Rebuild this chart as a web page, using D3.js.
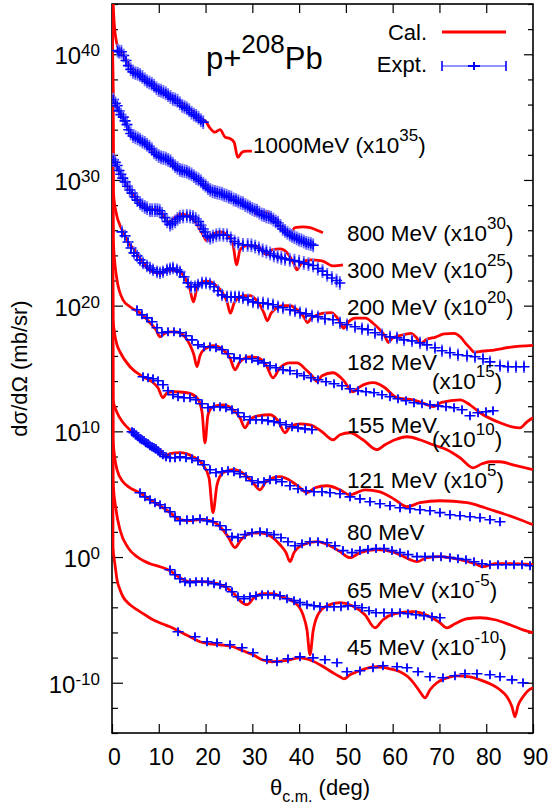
<!DOCTYPE html>
<html>
<head>
<meta charset="utf-8">
<script src="https://cdn.jsdelivr.net/npm/d3@7"></script>
<style>
  body { margin: 0; background: #fff; }
  text { font-family: "Liberation Sans", Arial, Helvetica, sans-serif; fill: #000; }
</style>
</head>
<body>
<svg id="chart" width="549" height="807"></svg>
<script>
// ---- data: [theta (deg), log10(dsigma/dOmega x scale)] ----
var energyNames = ["1000MeV", "800 MeV", "300 MeV", "200 MeV", "182 MeV", "155 MeV", "121 MeV", "80 MeV", "65 MeV", "45 MeV"];
var scaleExps = ["35", "30", "25", "20", "15", "10", "5", "", "-5", "-10"];
// half height of the error bars, in decades
var exptErr = [0.55, 0.55, 0.55, 0.5, 0.3, 0.3, 0.35, 0.3, 0.3, 0.3];
var thetaTicks = [0, 10, 20, 30, 40, 50, 60, 70, 80, 90];
var decadeLabels = [-10, 0, 10, 20, 30, 40];
var minorDecades = [-14, -12, -8, -6, -4, -2, 2, 4, 6, 8, 12, 14, 16, 18, 22, 24, 26, 28, 32, 34, 36, 38, 42, 44];

var calc1000 = [[0.02,46],[0.43,42.7],[1.0,40.9],[1.7,40.3],[2.8,39.7],[3.9,39.1],[4.9,38.7],[6.0,38.4],[7.1,38.1],[8.1,37.7],[9.2,37.5],[10.3,37.2],[11.3,36.9],[12.4,36.7],[13.8,36.4],[15.2,36.0],[16.7,35.6],[17.7,35.3],[18.8,34.8],[19.9,34.7],[21.0,34.1],[22.0,33.8],[23.1,34.0],[24.2,33.4],[25.2,33.3],[26.1,33.0],[26.9,31.8],[27.8,32.2],[28.7,32.3],[29.9,32.3]];
var calc800 = [[0.02,46],[0.28,36.4],[1.07,35.8],[1.71,35.3],[2.42,34.9],[3.21,34.3],[3.85,33.8],[4.92,33.4],[5.99,33.2],[7.05,32.9],[8.12,32.5],[9.19,32.1],[10.26,31.8],[11.33,31.75],[12.4,31.5],[13.47,31.0],[14.54,30.8],[15.6,30.7],[16.67,30.5],[17.74,30.2],[18.81,29.9],[19.88,29.5],[20.95,29.2],[22.02,29.1],[23.09,29.0],[24.16,28.7],[25.22,28.6],[26.5,28.4],[28.0,28.2],[29.5,27.85],[30.36,27.6],[31.0,27.2],[31.85,27.45],[33.13,27.45],[34.2,27.1],[35.27,26.6],[36.77,26.1],[38.05,25.8],[39.12,26.2],[40.83,26.26],[42.33,26.2],[43.82,26.0],[45.1,25.8]];
var calc300 = [[0.02,46],[0.28,31.6],[1.07,31.1],[1.71,30.56],[2.78,29.84],[3.85,29.2],[4.92,28.65],[5.99,28.17],[7.05,27.85],[8.12,27.61],[9.41,27.69],[10.69,27.37],[11.97,26.66],[13.25,26.98],[14.54,27.29],[16.03,27.21],[17.74,26.66],[19.24,25.79],[20.31,25.15],[21.38,25.63],[23.09,25.87],[24.8,25.55],[25.87,24.83],[26.66,23.24],[27.36,24.44],[28.65,24.75],[30.57,24.75],[32.07,24.44],[33.07,24.04],[34.2,24.44],[35.91,24.51],[37.62,24.12],[38.91,23.32],[39.55,22.85],[40.41,23.32],[42.33,23.64],[44.89,23.56],[47.24,23.16],[49.38,23.24]];
var calc200 = [[0.02,46],[0.3,29.0],[1.0,27.2],[1.7,26.4],[2.4,25.83],[3.5,25.0],[4.9,24.4],[6.5,23.5],[8.1,22.8],[10.3,22.57],[12.0,22.8],[13.9,22.8],[15.6,22.2],[16.6,21.4],[17.4,20.3],[18.1,21.3],[18.9,21.8],[20.2,21.95],[21.4,21.85],[22.5,21.5],[23.6,21.05],[24.6,20.3],[25.3,19.4],[26.1,20.2],[27.0,20.6],[28.3,20.8],[29.6,20.8],[30.7,20.5],[31.7,20.0],[32.5,19.4],[33.2,18.8],[34.0,19.4],[34.9,19.75],[36.5,20.0],[38.1,20.0],[39.3,19.75],[40.3,19.45],[41.1,19.05],[41.8,18.65],[42.6,19.0],[43.5,19.2],[45.2,19.4],[46.9,19.45],[48.0,19.1],[48.9,18.6],[49.5,18.2],[50.3,18.6],[51.2,18.9],[52.1,19.0],[54.2,19.0],[55.8,18.6],[57.4,18.03],[58.3,17.6],[59.1,17.07],[59.9,17.4],[61.7,17.63],[63.9,17.8],[65.0,17.5],[66.0,17.0],[67.2,17.3],[69.2,17.5],[71.0,17.75],[73.1,17.8],[74.5,17.5],[75.6,17.0],[76.6,16.6],[77.4,16.3],[78.5,16.35],[81.0,16.44],[85.3,16.7],[90,16.84]];
var calc182 = [[0.02,46],[0.3,25.0],[1.07,22.05],[2.35,20.46],[3.85,19.91],[5.99,19.43],[8.12,18.64],[9.41,18.08],[10.26,17.52],[11.12,17.76],[12.4,17.92],[13.89,17.92],[15.18,17.68],[16.67,16.88],[17.5,16.1],[18.17,15.14],[18.81,16.01],[19.88,16.57],[21.59,16.81],[23.73,16.49],[25.22,15.85],[26.29,14.9],[27.36,15.53],[29.5,15.93],[31.21,15.85],[32.92,15.3],[34.42,14.26],[35.91,15.06],[38.05,15.45],[39.55,15.45],[41.47,14.9],[42.97,14.34],[43.82,13.95],[44.89,14.42],[47.24,14.66],[49.38,14.1],[51.52,13.15],[53.01,13.55],[55.79,13.87],[58.36,13.47],[60.5,12.75],[62.0,12.6],[64.34,12.51],[66.91,12.19],[68.62,11.96],[70.5,12.3],[74.39,12.51],[76.53,12.11],[78.67,11.48],[82.94,10.68],[85.51,10.36],[87.22,10.28],[88.72,10.76],[90,11.08]];
var calc155 = [[0.02,46],[0.21,18.88],[1.07,16.88],[1.71,16.33],[3.85,15.14],[6.63,14.34],[8.55,13.95],[9.83,13.47],[10.9,12.67],[11.76,13.07],[13.04,13.15],[16.03,13.07],[18.17,12.67],[19.24,11.56],[19.88,9.09],[20.52,11.32],[21.59,11.96],[23.73,12.11],[25.65,11.8],[27.36,11.08],[28.43,10.28],[29.5,10.92],[31.21,11.24],[33.78,11.32],[35.49,10.84],[36.98,9.89],[38.05,10.36],[40.19,10.6],[42.33,10.52],[44.89,9.97],[47.24,9.33],[48.74,9.73],[50.88,9.89],[53.65,9.33],[56.65,8.54],[58.36,8.93],[60.5,9.33],[63.06,9.57],[65.84,9.33],[68.62,8.93],[71.61,8.54],[74.39,7.9],[77.17,7.1],[79.1,7.42],[80.8,7.58],[82.94,7.58],[85.72,7.34],[90,6.95]];
var calc121 = [[0.02,46],[0.21,12.5],[1.07,11.5],[2.35,10.7],[4.28,9.97],[5.99,9.33],[8.12,8.77],[10.26,8.54],[11.33,8.06],[12.4,8.22],[14.54,8.3],[17.31,7.98],[19.45,7.34],[20.74,6.31],[21.59,3.53],[22.45,5.75],[23.73,6.71],[25.87,6.95],[28.43,6.55],[30.14,5.91],[31.64,5.35],[32.92,5.99],[35.91,6.39],[38.48,5.99],[40.19,5.51],[41.68,5.11],[43.39,5.51],[45.96,5.67],[48.74,5.35],[50.88,4.95],[54.08,5.35],[57.29,5.19],[60.5,4.56],[63.06,4.0],[65.84,4.32],[70.11,4.48],[75.89,4.32],[79.74,3.92],[82.94,3.53],[86.15,3.13],[90,2.57]];
var calc80 = [[0.02,46],[0.21,9.33],[1.07,6.95],[2.35,5.99],[3.85,5.51],[5.99,5.11],[8.12,4.56],[10.26,4.08],[12.4,3.53],[14.54,2.97],[16.67,2.89],[18.81,2.97],[20.95,2.89],[23.09,2.41],[24.8,1.62],[26.29,0.75],[27.57,1.38],[29.5,1.86],[31.64,1.93],[33.78,1.7],[35.91,0.98],[37.2,0.35],[38.05,-0.37],[38.91,0.35],[40.83,0.98],[43.82,1.22],[46.6,0.9],[48.74,0.43],[50.88,-0.05],[53.01,0.35],[56.65,0.59],[60.5,0.35],[63.27,-0.13],[65.2,-0.37],[67.34,-0.05],[70.11,0.03],[74.39,-0.21],[77.6,-0.53],[79.31,-0.77],[81.87,-0.53],[85.08,-0.53],[90,-0.61]];
var calc65 = [[0.02,46],[0.21,6.15],[0.86,3.76],[1.71,2.17],[3.42,0.75],[5.34,0.03],[8.12,-0.53],[10.26,-0.77],[12.4,-1.09],[14.54,-1.65],[16.67,-1.96],[18.81,-1.96],[21.38,-2.04],[24.16,-2.36],[26.29,-3.0],[27.57,-3.55],[28.86,-3.79],[30.36,-3.24],[32.07,-2.92],[34.2,-2.92],[36.34,-3.16],[39.12,-3.63],[40.83,-4.59],[41.68,-5.79],[42.33,-7.78],[42.97,-5.95],[44.03,-4.59],[45.96,-3.87],[48.74,-3.63],[51.31,-3.87],[54.08,-4.59],[56.22,-5.63],[57.93,-4.99],[60.5,-4.51],[64.34,-4.35],[67.55,-4.67],[70.11,-5.23],[71.61,-5.63],[73.32,-5.31],[75.89,-4.91],[78.67,-4.83],[81.87,-4.99],[85.08,-5.39],[87.86,-5.79],[90,-6.03]];
var calc45 = [[0.02,46],[0.21,0.82],[0.64,-0.61],[1.07,-1.8],[1.71,-2.6],[2.35,-3.16],[3.85,-3.79],[5.34,-4.19],[7.05,-4.59],[8.76,-4.99],[10.69,-5.31],[12.4,-5.55],[14.54,-5.95],[16.67,-6.34],[18.81,-6.74],[20.95,-6.9],[23.09,-6.98],[25.87,-7.14],[28.0,-7.46],[30.14,-7.78],[32.07,-8.17],[34.2,-8.33],[36.98,-8.25],[40.19,-8.02],[42.75,-8.25],[44.46,-8.57],[47.24,-9.21],[48.74,-9.53],[49.59,-9.69],[50.88,-9.37],[52.37,-9.13],[54.08,-8.89],[56.65,-8.73],[59.43,-8.89],[61.57,-9.13],[63.27,-9.53],[64.77,-10.16],[65.84,-10.72],[66.91,-11.2],[67.98,-10.56],[69.47,-10.0],[71.61,-9.61],[73.75,-9.45],[76.53,-9.53],[78.67,-9.77],[81.23,-10.16],[82.94,-10.56],[84.44,-11.12],[85.51,-11.91],[86.15,-12.71],[86.79,-11.83],[87.86,-11.12],[88.93,-10.64],[90,-10.4]];

var expt1000 = [[1.2,40.3],[1.5,40.2],[2.0,40.2],[2.5,39.9],[3.0,39.5],[3.5,39.1],[4.0,38.8],[4.5,38.6],[5.0,38.5],[5.5,38.45],[6.0,38.35],[6.5,38.2],[7.0,38.0],[7.5,37.85],[8.0,37.75],[8.5,37.65],[9.0,37.5],[9.5,37.3],[10.0,37.15],[10.5,37.1],[11.0,37.0],[11.5,36.9],[12.0,36.75],[12.5,36.6],[13.0,36.45],[13.5,36.4],[14.0,36.3],[14.5,36.1],[15.0,35.9],[15.5,35.8],[16.0,35.7],[16.5,35.55],[17.0,35.35],[17.5,35.2],[18.0,35.1],[18.5,34.95],[19.0,34.75],[19.5,34.6]];
var expt800 = [[0.3,36.4],[0.7,36.1],[1.1,35.9],[1.5,35.5],[1.9,35.2],[2.4,35.0],[2.8,34.7],[3.2,34.4],[3.6,34.0],[4.0,33.7],[4.5,33.5],[5.0,33.4],[5.5,33.3],[6.0,33.2],[6.5,33.05],[7.0,32.95],[7.5,32.8],[8.0,32.65],[8.5,32.45],[9.0,32.2],[9.5,32.05],[10.0,31.9],[10.5,31.8],[11.0,31.75],[11.5,31.7],[12.0,31.6],[12.5,31.5],[13.0,31.3],[13.5,31.1],[14.0,30.95],[14.5,30.8],[15.0,30.75],[15.5,30.7],[16.0,30.65],[16.5,30.55],[17.0,30.45],[17.5,30.3],[18.0,30.15],[18.5,30.05],[19.0,29.9],[19.5,29.7],[20.0,29.55],[20.5,29.35],[21.0,29.2],[21.5,29.1],[22.0,29.05],[22.5,29.0],[23.0,28.95],[23.5,28.9],[24.0,28.8],[24.5,28.75],[25.0,28.65],[25.5,28.6],[26.0,28.45],[26.5,28.4],[27.0,28.3],[27.5,28.2],[28.0,28.15],[28.5,28.0],[29.0,27.9],[29.5,27.8],[30.0,27.7],[30.5,27.6],[31.0,27.55],[31.5,27.4],[32.0,27.25],[32.5,27.2],[33.0,27.1],[33.5,27.05],[34.0,27.0],[34.5,26.85],[35.0,26.7],[35.5,26.6],[36.0,26.35],[36.5,26.1],[37.0,25.95],[37.5,25.8],[38.0,25.65],[38.5,25.55],[39.0,25.45],[39.5,25.35],[40.0,25.25],[40.5,25.2],[41.0,25.1],[41.5,25.0],[42.0,24.95],[42.5,24.9],[43.0,24.8]];
var expt300 = [[0.3,31.6],[0.7,31.4],[1.1,31.15],[1.5,30.75],[1.9,30.45],[2.3,30.15],[2.8,29.85],[3.3,29.5],[3.8,29.2],[4.3,28.95],[4.9,28.65],[5.4,28.4],[6.0,28.15],[6.5,28.0],[7.0,27.85],[7.5,27.75],[8.1,27.6],[8.6,27.6],[9.2,27.6],[9.7,27.6],[10.2,27.55],[10.7,27.3],[11.3,27.0],[11.8,26.7],[12.4,26.45],[12.9,26.55],[13.5,26.7],[14.0,26.9],[14.5,27.05],[15.2,27.1],[16.0,27.13],[16.7,27.1],[17.3,27.05],[17.9,26.9],[18.5,26.7],[19.0,26.4],[19.5,26.1],[19.9,25.87],[20.4,25.55],[21.0,25.4],[21.6,25.5],[22.3,25.6],[23.0,25.65],[23.8,25.63],[24.6,25.6],[25.4,25.35],[26.2,25.1],[27.0,24.95],[28.0,24.83],[29.0,24.83],[29.8,24.8],[30.6,24.7],[31.4,24.55],[32.2,24.4],[33.0,24.3],[33.8,24.15],[34.6,24.0],[35.4,23.9],[36.2,23.8],[37.0,23.72],[38.0,23.64],[39.0,23.58],[40.0,23.5],[41.0,23.4],[42.0,23.3],[43.0,23.2],[44.0,22.95],[45.0,22.75],[46.0,22.45],[47.0,22.2],[48.0,22.0],[48.7,21.8]];
var expt200 = [[2.14,25.87],[2.78,25.55],[3.42,25.07],[4.06,24.59],[4.7,24.2],[5.34,23.96],[5.99,23.64],[6.63,23.4],[7.48,23.16],[8.12,23.0],[8.76,22.85],[9.62,22.69],[10.26,22.61],[10.9,22.69],[11.76,22.85],[12.4,22.93],[13.04,23.0],[13.89,22.85],[14.54,22.69],[15.39,22.29],[16.25,21.81],[16.89,21.5],[17.74,21.5],[18.38,21.65],[19.24,21.81],[20.09,21.81],[20.95,21.73],[21.8,21.5],[22.66,21.18],[23.51,20.86],[24.58,20.7],[25.44,20.7],[26.29,20.7],[27.15,20.7],[28.0,20.62],[29.07,20.46],[30.14,20.3],[31.21,20.22],[32.28,20.22],[33.35,20.14],[34.42,20.07],[35.49,19.91],[36.55,19.83],[38.05,19.67],[39.12,19.59],[40.19,19.43],[41.47,19.35],[42.75,19.19],[44.03,19.11],[45.53,18.96],[47.24,18.88],[48.74,18.64],[50.23,18.48],[51.95,18.32],[53.44,18.16],[54.72,18.08],[56.22,17.84],[57.72,17.68],[59.43,17.52],[60.92,17.44],[62.42,17.28],[64.13,17.2],[65.84,17.04],[67.34,16.88],[69.05,16.65],[70.54,16.41],[72.25,16.25],[73.96,16.09],[75.89,16.01],[77.6,15.93],[79.31,15.77],[80.8,15.53],[82.94,15.22],[84.65,15.14],[86.36,15.14],[88.07,15.14]];
var expt182 = [[5.34,19.67],[6.41,19.27],[7.48,19.03],[8.55,18.72],[9.62,18.24],[10.69,17.84],[11.97,17.92],[13.25,17.92],[14.54,17.84],[15.82,17.6],[17.1,17.28],[18.38,16.88],[19.67,16.73],[20.95,16.73],[22.23,16.65],[23.51,16.49],[24.8,16.17],[26.08,15.85],[27.36,15.77],[28.65,15.77],[29.93,15.77],[31.21,15.61],[32.49,15.45],[33.78,15.22],[35.06,15.06],[36.55,14.9],[38.05,14.82],[39.55,14.58],[41.04,14.42],[42.54,14.26],[44.03,14.1],[45.75,13.95],[47.46,13.79],[49.17,13.63],[50.88,13.39],[52.59,13.23],[54.3,13.15],[56.01,13.07],[57.72,12.91],[59.43,12.75],[61.14,12.59],[62.85,12.43],[64.56,12.27],[66.27,12.19],[67.98,12.11],[69.69,12.03],[71.4,11.96],[73.11,11.88],[74.82,11.72],[76.53,11.24],[78.24,11.48],[79.95,11.56],[81.45,11.64]];
var expt155 = [[6.63,14.34],[7.7,14.26],[8.76,14.18],[9.83,14.02],[10.9,13.71],[11.97,13.23],[13.04,12.91],[14.11,12.75],[15.39,12.67],[16.67,12.67],[17.96,12.51],[19.24,12.19],[20.52,11.88],[21.8,11.96],[23.09,11.96],[24.37,11.88],[25.65,11.72],[26.93,11.48],[28.22,11.16],[29.5,10.92],[30.78,10.92],[32.07,10.92],[33.35,10.84],[34.63,10.76],[35.91,10.68],[37.2,10.52],[38.48,10.36],[39.76,10.28],[41.26,10.2],[42.75,10.13]];
var expt121 = [[4.28,9.97],[4.7,9.89],[5.13,9.73],[5.56,9.57],[5.99,9.41],[6.41,9.33],[6.84,9.25],[7.27,9.09],[7.7,9.01],[8.12,8.85],[8.55,8.77],[8.98,8.69],[9.41,8.62],[9.83,8.46],[10.26,8.3],[10.9,8.14],[11.54,7.98],[12.4,7.9],[13.47,7.9],[14.54,7.98],[15.82,7.9],[17.1,7.82],[18.38,7.66],[19.67,7.34],[20.95,6.95],[22.23,6.71],[23.51,6.79],[24.8,6.87],[26.08,6.79],[27.36,6.63],[28.65,6.39],[29.93,6.07],[31.21,5.91],[32.49,5.99],[33.78,6.15],[35.06,6.15],[36.34,5.99],[38.05,5.67],[39.76,5.43],[41.47,5.27],[43.18,5.19],[44.89,5.19],[46.6,5.11],[48.74,5.03],[50.88,4.79],[53.01,4.63],[55.15,4.4],[57.29,4.24],[59.43,4.08],[61.57,3.92],[63.7,3.84],[65.84,3.76],[67.98,3.68],[70.11,3.53],[72.25,3.37],[74.39,3.29],[76.53,3.21],[78.67,3.13],[80.8,2.97],[82.94,2.81]];
var expt80 = [[5.99,5.11],[7.05,4.79],[8.12,4.56],[9.19,4.32],[10.26,4.16],[11.33,3.92],[12.4,3.6],[13.47,3.21],[14.54,2.89],[16.03,2.97],[17.31,2.97],[18.81,3.05],[20.31,2.89],[21.59,2.81],[23.09,2.49],[24.37,2.17],[25.65,1.62],[26.93,1.54],[28.43,1.78],[29.93,1.93],[31.64,2.01],[33.13,1.93],[34.63,1.78],[36.12,1.54],[37.62,1.22],[39.12,0.9],[40.62,1.06],[42.33,1.22],[44.03,1.22],[45.96,1.14],[47.67,0.9],[49.38,0.51],[51.31,0.35],[53.01,0.51],[54.72,0.59],[56.44,0.67],[58.15,0.67],[59.85,0.51],[61.57,0.35],[63.27,0.19],[65.2,0.03],[66.91,0.03],[68.62,0.03],[70.33,0.03],[72.25,-0.05],[73.96,-0.13],[75.67,-0.21],[77.38,-0.37],[79.1,-0.53],[80.8,-0.61],[82.51,-0.61],[84.22,-0.61],[85.94,-0.61],[87.65,-0.61],[89.36,-0.69]];
var expt65 = [[12.4,-1.01],[13.47,-1.41],[14.54,-1.73],[15.6,-1.96],[16.67,-2.04],[17.96,-1.96],[19.24,-1.96],[20.52,-1.96],[21.8,-2.12],[23.09,-2.2],[24.37,-2.36],[25.65,-2.76],[26.93,-3.16],[28.22,-3.32],[29.5,-3.16],[30.78,-3.08],[32.07,-3.0],[33.35,-3.0],[34.63,-3.0],[35.91,-3.08],[37.41,-3.32],[38.91,-3.47],[40.19,-3.63],[41.68,-3.79],[43.18,-3.87],[44.46,-3.95],[45.96,-3.95],[47.46,-3.95],[48.95,-3.95],[50.45,-3.87],[51.95,-3.87],[53.44,-4.03],[54.94,-4.27],[56.44,-4.43],[58.15,-4.43],[59.85,-4.43],[61.57,-4.43],[63.27,-4.51],[64.98,-4.59],[66.69,-4.67],[68.4,-4.75],[70.11,-4.83]];
var expt45 = [[14.11,-5.95],[17.74,-6.34],[20.31,-6.74],[22.45,-6.82],[25.22,-6.98],[27.79,-7.22],[30.14,-7.62],[33.13,-8.17],[35.27,-8.33],[37.62,-8.09],[40.19,-7.94],[42.97,-8.02],[45.53,-8.17],[48.1,-8.41],[50.23,-9.13],[53.01,-9.05],[55.79,-8.81],[57.93,-8.65],[60.92,-8.73],[63.06,-8.81],[65.41,-9.13],[67.98,-9.53],[70.76,-9.61],[73.32,-9.45],[75.46,-9.29],[78.02,-9.29],[80.8,-9.37],[82.94,-9.53],[85.51,-9.77],[87.86,-10.0]];

var calcSets = [calc1000, calc800, calc300, calc200, calc182, calc155, calc121, calc80, calc65, calc45];
var exptSets = [expt1000, expt800, expt300, expt200, expt182, expt155, expt121, expt80, expt65, expt45];

// ---- layout ----
var width = 549, height = 807;
var margin = {top: 4, right: 16, bottom: 74, left: 112};
var chartWidth = width - margin.left - margin.right;
var chartHeight = height - margin.top - margin.bottom;

var svg = d3.select("#chart");

var xScale = d3.scaleLinear().domain([0, 90]).range([margin.left, margin.left + chartWidth]);
var yScale = d3.scaleLog().domain([1e-14, 1e44]).range([margin.top + chartHeight, margin.top]);
function yExp(e) { return yScale(Math.pow(10, e)); }

var red = "#ff0000", blue = "#0000ff", lightBlue = "#7070ff";

// clip
svg.append("defs").append("clipPath").attr("id", "plotClip")
  .append("rect")
  .attr("x", margin.left).attr("y", margin.top)
  .attr("width", chartWidth).attr("height", chartHeight);

// ticks (inward, mirrored)
function styleTicks(g) {
  g.select(".domain").remove();
  g.selectAll(".tick line").attr("stroke", "#000").attr("stroke-width", 1.2);
}
var majorVals = decadeLabels.map(function(e) { return Math.pow(10, e); });
var minorVals = minorDecades.map(function(e) { return Math.pow(10, e); });

svg.append("g").attr("transform", "translate(" + margin.left + ",0)")
  .call(d3.axisLeft(yScale).tickValues(majorVals).tickSize(-11).tickFormat(""))
  .call(styleTicks);
svg.append("g").attr("transform", "translate(" + margin.left + ",0)")
  .call(d3.axisLeft(yScale).tickValues(minorVals).tickSize(-6).tickFormat(""))
  .call(styleTicks);
svg.append("g").attr("transform", "translate(" + (margin.left + chartWidth) + ",0)")
  .call(d3.axisRight(yScale).tickValues(majorVals).tickSize(-9).tickFormat(""))
  .call(styleTicks);
svg.append("g").attr("transform", "translate(" + (margin.left + chartWidth) + ",0)")
  .call(d3.axisRight(yScale).tickValues(minorVals).tickSize(-5).tickFormat(""))
  .call(styleTicks);

var xAxisG = svg.append("g").attr("transform", "translate(0," + (margin.top + chartHeight) + ")")
  .call(d3.axisBottom(xScale).tickValues(thetaTicks).tickSize(-9).tickPadding(16).tickFormat(d3.format("d")))
  .call(styleTicks);
xAxisG.selectAll(".tick text")
  .attr("font-size", 23).attr("font-family", "Liberation Sans, Arial, sans-serif")
  .attr("fill", "#000").attr("dx", 2);
svg.append("g").attr("transform", "translate(0," + margin.top + ")")
  .call(d3.axisTop(xScale).tickValues(thetaTicks.slice(1, -1)).tickSize(-9).tickFormat(""))
  .call(styleTicks);

// y tick labels 10^n
decadeLabels.forEach(function(e) {
  var t = svg.append("text")
    .attr("x", margin.left - 12)
    .attr("y", yExp(e) + 10)
    .attr("text-anchor", "end")
    .attr("font-size", 24);
  t.append("tspan").text("10");
  t.append("tspan").attr("dy", -8).attr("font-size", 17).text(String(e));
});

// frame
svg.append("rect")
  .attr("x", margin.left).attr("y", margin.top)
  .attr("width", chartWidth).attr("height", chartHeight)
  .attr("fill", "none").attr("stroke", "#000").attr("stroke-width", 1.6);

// calculated curves
var line = d3.line()
  .x(function(d) { return xScale(d[0]); })
  .y(function(d) { return yExp(d[1]); })
  .curve(d3.curveMonotoneX);

var plotG = svg.append("g").attr("clip-path", "url(#plotClip)");
calcSets.forEach(function(set) {
  plotG.append("path")
    .datum(set)
    .attr("d", line)
    .attr("fill", "none")
    .attr("stroke", red)
    .attr("stroke-width", 2.8)
    .attr("stroke-linejoin", "round");
});

// experimental points with error bars
exptSets.forEach(function(set, i) {
  var err = exptErr[i];
  var pts = plotG.append("g").selectAll("g")
    .data(set)
    .enter()
    .append("g");
  pts.append("line")
    .attr("x1", function(d) { return xScale(d[0]); })
    .attr("x2", function(d) { return xScale(d[0]); })
    .attr("y1", function(d) { return yExp(d[1] + err); })
    .attr("y2", function(d) { return yExp(d[1] - err); })
    .attr("stroke", lightBlue).attr("stroke-width", 2);
  pts.append("path")
    .attr("transform", function(d) { return "translate(" + xScale(d[0]) + "," + yExp(d[1]) + ")"; })
    .attr("d", "M-5.5,0H5.5M0,-4.5V4.5")
    .attr("stroke", blue).attr("stroke-width", 1.6).attr("fill", "none");
});

// curve labels
var labelPos = [[253,153],[347,241],[347,278],[347,315],[347,370,432,389],[347,433,432,447],[347,488],[347,540],[347,598],[347,655]];
energyNames.forEach(function(name, i) {
  var p = labelPos[i];
  var t = svg.append("text").attr("x", p[0]).attr("y", p[1]).attr("font-size", 22.5);
  if (p.length > 2) {
    t.text(name);
    t = svg.append("text").attr("x", p[2]).attr("y", p[3]).attr("font-size", 22.5);
    t.append("tspan").text("(x10");
  } else if (scaleExps[i] !== "") {
    t.append("tspan").text(name + " (x10");
  } else {
    t.text(name);
    return;
  }
  t.append("tspan").attr("dy", -12).attr("font-size", 17).text(scaleExps[i]);
  t.append("tspan").attr("dy", 12).text(")");
});

// title
var title = svg.append("text").attr("x", 206).attr("y", 69).attr("font-size", 31);
title.append("tspan").text("p+");
title.append("tspan").attr("dy", -16).attr("font-size", 26).text("208");
title.append("tspan").attr("dy", 16).text("Pb");

// legend
svg.append("text").attr("x", 427).attr("y", 40).attr("text-anchor", "end").attr("font-size", 22).text("Cal.");
svg.append("line").attr("x1", 442).attr("x2", 506).attr("y1", 32).attr("y2", 32)
  .attr("stroke", red).attr("stroke-width", 2.8);
svg.append("text").attr("x", 427).attr("y", 72).attr("text-anchor", "end").attr("font-size", 22).text("Expt.");
var lg = svg.append("g").attr("stroke", lightBlue).attr("stroke-width", 1.6);
lg.append("line").attr("x1", 442).attr("x2", 506).attr("y1", 66).attr("y2", 66);
lg.append("line").attr("x1", 442).attr("x2", 442).attr("y1", 61).attr("y2", 71).attr("stroke", blue);
lg.append("line").attr("x1", 506).attr("x2", 506).attr("y1", 61).attr("y2", 71).attr("stroke", blue);
svg.append("path").attr("d", "M468,66H480M474,62V70").attr("stroke", blue).attr("stroke-width", 2).attr("fill", "none");

// axis titles
var xt = svg.append("text").attr("x", 320).attr("y", 795).attr("text-anchor", "middle").attr("font-size", 22);
xt.append("tspan").text("\u03b8");
xt.append("tspan").attr("dy", 7).attr("font-size", 16).text("c.m.");
xt.append("tspan").attr("dy", -7).text(" (deg)");

svg.append("text")
  .attr("transform", "translate(27," + (margin.top + chartHeight / 2) + ") rotate(-90)")
  .attr("text-anchor", "middle")
  .attr("font-size", 22)
  .text("d\u03c3/d\u03a9 (mb/sr)");
</script>
</body>
</html>
